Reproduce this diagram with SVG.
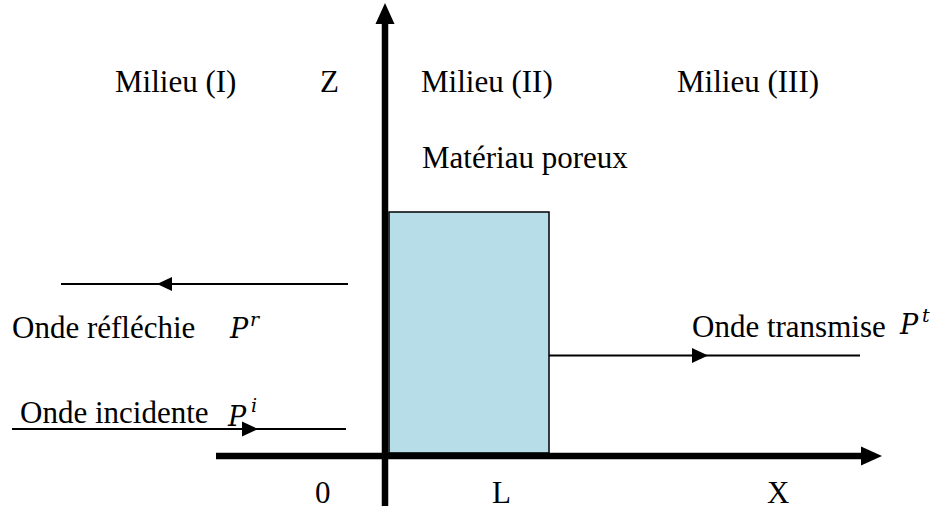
<svg xmlns="http://www.w3.org/2000/svg" width="938" height="510" viewBox="0 0 938 510">
<defs>
<style>
.t{font-family:"Liberation Serif","Times New Roman",serif;font-size:31px;fill:#000}
.m{font-family:"DejaVu Serif","Liberation Serif",serif;font-style:italic;font-size:27px;fill:#000}
.s{font-family:"DejaVu Serif","Liberation Serif",serif;font-style:italic;font-size:19px;fill:#000}
.ax{stroke:#000;stroke-width:6.5;fill:none}
.ln{stroke:#000;stroke-width:2;fill:none}
.ah{fill:#000}
</style>
</defs>
<rect width="938" height="510" fill="#fff"/>
<g id="material">
<rect x="389" y="212" width="160" height="241" fill="#b7dde8" stroke="#000" stroke-width="1.5"/>
</g>
<g id="axes">
<line class="ax" x1="385" y1="22" x2="385" y2="506"/>
<polygon class="ah" points="385,3 375.5,24 394.5,24"/>
<line class="ax" x1="216" y1="456" x2="864" y2="456"/>
<polygon class="ah" points="882,456 861,446.5 861,465.5"/>
</g>
<g id="connectors">
<line class="ln" x1="61" y1="284" x2="348" y2="284"/>
<polygon class="ah" points="157,284 172,277 172,291"/>
<line class="ln" x1="12" y1="429" x2="346" y2="429"/>
<polygon class="ah" points="258,429 242,421.5 242,436.5"/>
<line class="ln" x1="549" y1="355.5" x2="860" y2="355.5"/>
<polygon class="ah" points="708,355.5 692,348 692,363"/>
</g>
<g id="labels">
<text class="t" x="115" y="92">Milieu (I)</text>
<text class="t" x="320" y="92">Z</text>
<text class="t" x="421" y="92">Milieu (II)</text>
<text class="t" x="677" y="92">Milieu (III)</text>
<text class="t" x="422" y="168">Matériau poreux</text>
<text class="t" x="12" y="338">Onde réfléchie</text>
<text class="t" x="20" y="423">Onde incidente</text>
<text class="t" x="692" y="337">Onde transmise</text>
<text class="t" x="315" y="503">0</text>
<text class="t" x="492" y="503">L</text>
<text class="t" x="767" y="503">X</text>
</g>
<g id="math">
<text class="m" x="230" y="338">P</text><text class="s" x="250" y="326">r</text>
<text class="m" x="228" y="426">P</text><text class="s" x="251" y="412">i</text>
<text class="m" x="900" y="334">P</text><text class="s" x="922" y="322">t</text>
</g>
</svg>
